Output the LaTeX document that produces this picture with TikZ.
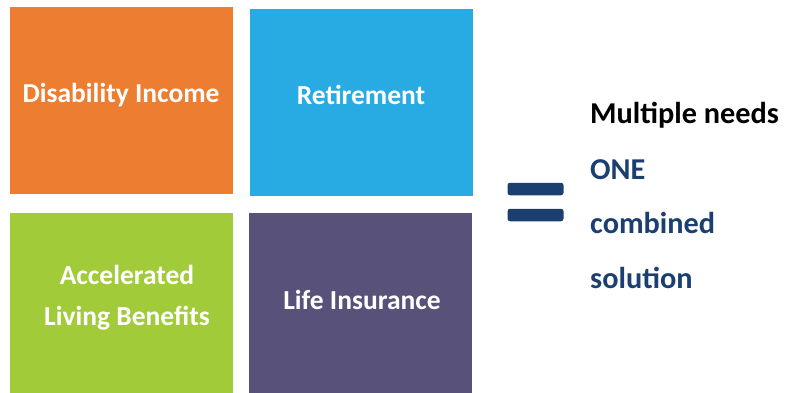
\documentclass[tikz,border=0pt]{standalone}
\usepackage{fontspec}
\setmainfont{Carlito}
\usepackage{xcolor}
\usetikzlibrary{positioning}

\definecolor{diOrange}{RGB}{237,125,49}
\definecolor{retBlue}{RGB}{40,171,226}
\definecolor{albGreen}{RGB}{162,203,58}
\definecolor{liPurple}{RGB}{88,81,122}
\definecolor{oneNavy}{RGB}{26,63,112}

\begin{document}
\begin{tikzpicture}[x=1pt, y=-1pt,
          tile/.style={minimum width=223pt, minimum height=187pt, inner sep=0pt, anchor=north west},
          tilelabel/.style={text=white, align=center, font=\bfseries\fontsize{27.5}{41}\selectfont},
          bar/.style={fill=oneNavy, rounded corners=2.5pt, minimum width=56pt, minimum height=12.5pt, inner sep=0pt},
          needs/.style={anchor=west, inner sep=0pt, font=\bfseries\fontsize{30.3}{36}\selectfont}]
        \useasboundingbox (0,0) rectangle (800,393);
        % the four tiles
        \node[tile, fill=diOrange] (income) at (10,7) {};
        \node[tile, fill=retBlue] (retire) at (250,9) {};
        \node[tile, fill=albGreen, minimum height=180pt] (living) at (10,213) {};
        \node[tile, fill=liPurple, minimum height=180pt] (life) at (249,213) {};
        \node[tilelabel] (incomeText) at (121,95) {Disability Income};
        \node[tilelabel] (retireText) at (361,95) {Retirement};
        \node[tilelabel] (livingText) at (127,298) {Accelerated\\Living Benefits};
        \node[tilelabel] (lifeText) at (362,300) {Life Insurance};
        % equals sign
        \node[bar] (eqTop) at (535.5,189) {};
        \node[bar] (eqBot) at (535.5,215) {};
        % right hand text
        \node[needs] (multi) at (590,115) {Multiple needs};
        \node[needs, text=oneNavy] (one) at (590,170) {ONE};
        \node[needs, text=oneNavy] (combined) at (590,223) {combined};
        \node[needs, text=oneNavy] (solution) at (590,278) {solution};
      \end{tikzpicture}
\end{document}
